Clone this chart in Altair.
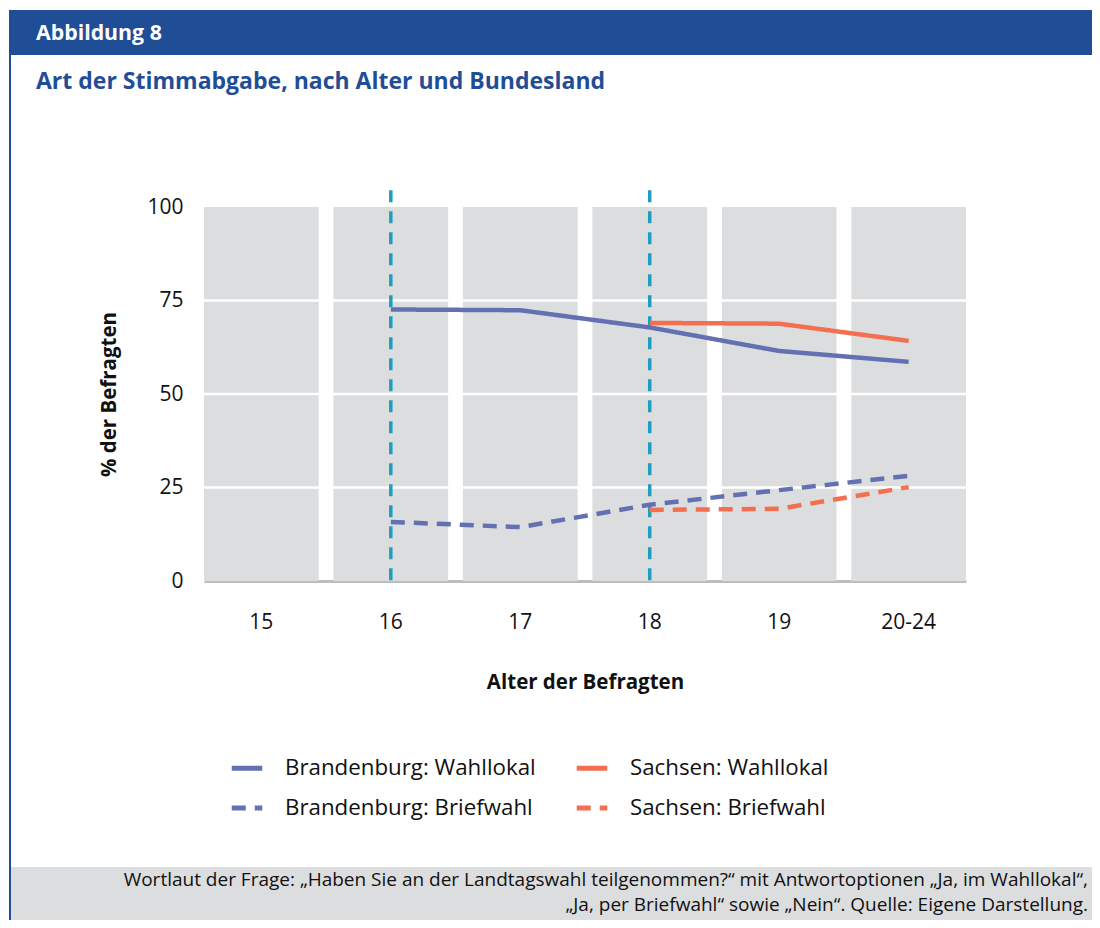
import altair as alt
import pandas as pd

# ---- data ----
ages = ["15", "16", "17", "18", "19", "20-24"]
series_names = ["Brandenburg: Wahllokal", "Sachsen: Wahllokal",
                "Brandenburg: Briefwahl", "Sachsen: Briefwahl"]
bb_wahllokal = [None, 72.6, 72.4, 67.8, 61.5, 58.6]
sn_wahllokal = [None, None, None, 69.0, 68.8, 64.2]
bb_briefwahl = [None, 15.8, 14.4, 20.4, 24.3, 28.1]
sn_briefwahl = [None, None, None, 19.0, 19.3, 25.1]
y_ticks = [0, 25, 50, 75, 100]
grid_values = [25, 50, 75]
marker_ages = ["16", "18"]
band_top = 100

header_text = "Abbildung 8"
title_text = "Art der Stimmabgabe, nach Alter und Bundesland"
x_title = "Alter der Befragten"
y_title = "% der Befragten"
footer_line1 = "Wortlaut der Frage: \u201eHaben Sie an der Landtagswahl teilgenommen?\u201c mit Antwortoptionen \u201eJa, im Wahllokal\u201c,"
footer_line2 = "\u201eJa, per Briefwahl\u201c sowie \u201eNein\u201c. Quelle: Eigene Darstellung."

# ---- styles ----
BLUE = "#1f4e96"
GRAY = "#dcdddf"
TEAL = "#1f9dc0"
C_BB = "#6370b1"
C_SN = "#f36f50"
FONT = "Open Sans, Lato, sans-serif"

W, H = 762, 374
TOTAL_W, TOTAL_H = 1084, 912
PAD_L, PAD_T = 196, 199

rows = []
for name, vals in zip(series_names, [bb_wahllokal, sn_wahllokal, bb_briefwahl, sn_briefwahl]):
    for a, v in zip(ages, vals):
        if v is not None:
            rows.append({"age": a, "series": name, "value": v})
line_df = pd.DataFrame(rows)
bg_df = pd.DataFrame({"age": ages, "top": [band_top] * len(ages)})
grid_df = pd.DataFrame({"v": grid_values})
marker_df = pd.DataFrame({"age": marker_ages})
one = pd.DataFrame({"k": [0]})

x_scale = alt.Scale(domain=ages, paddingInner=0.114, paddingOuter=0)
y_scale = alt.Scale(domain=[0, 100], nice=False)

x_axis = alt.Axis(title=x_title, labelAngle=0, ticks=False, domainColor="#bcbdbf",
                  domainWidth=3, labelPadding=30, labelFontSize=21, labelFont=FONT,
                  labelColor="#111", titleFontSize=20.5, titleFont=FONT,
                  titleFontWeight="bold", titleColor="#111", titlePadding=40)
y_axis = alt.Axis(title=y_title, values=y_ticks, ticks=False, domain=False, grid=False,
                  labelPadding=21, labelFontSize=21, labelFont=FONT, labelColor="#111",
                  titleFontSize=20.5, titleFont=FONT, titleFontWeight="bold",
                  titleColor="#111", titlePadding=27)

x_enc = alt.X("age:N", scale=x_scale, sort=ages, axis=x_axis)

bg = alt.Chart(bg_df).mark_bar(color=GRAY).encode(
    x=x_enc, y=alt.Y("top:Q", scale=y_scale, axis=y_axis))

grid = alt.Chart(grid_df).mark_rule(color="white", strokeWidth=2.5).encode(
    y=alt.Y("v:Q", scale=y_scale, axis=y_axis))

markers = alt.Chart(marker_df).mark_rule(color=TEAL, strokeWidth=3.5, strokeDash=[12, 9]).encode(
    x=x_enc, y=alt.datum(104.5), y2=alt.datum(0))

legend = alt.Legend(orient="none", legendX=25, legendY=543, columns=2, direction="horizontal",
                    title=None, symbolType="stroke", symbolSize=930, symbolStrokeWidth=5,
                    labelFontSize=22.3, labelFont=FONT, labelColor="#111",
                    labelOffset=20, columnPadding=30, rowPadding=10, padding=0,
                    labelLimit=500)

lines = alt.Chart(line_df).mark_line(strokeWidth=4.5).encode(
    x=x_enc,
    y=alt.Y("value:Q", scale=y_scale, axis=y_axis),
    color=alt.Color("series:N", scale=alt.Scale(domain=series_names, range=[C_BB, C_SN, C_BB, C_SN]),
                    legend=legend),
    strokeDash=alt.StrokeDash("series:N", scale=alt.Scale(domain=series_names,
                              range=[[1, 0], [1, 0], [14, 9], [14, 9]]), legend=legend),
    detail="series:N",
)

RIGHT = TOTAL_W - PAD_L
BOTTOM = TOTAL_H - PAD_T
header = alt.Chart(one).mark_rect(color=BLUE).encode(
    x=alt.value(-195), x2=alt.value(RIGHT), y=alt.value(-197), y2=alt.value(-152))
left_line = alt.Chart(one).mark_rule(color=BLUE, strokeWidth=2).encode(
    x=alt.value(-194), y=alt.value(-197), y2=alt.value(BOTTOM))
footer = alt.Chart(one).mark_rect(color=GRAY).encode(
    x=alt.value(-193), x2=alt.value(RIGHT), y=alt.value(660), y2=alt.value(BOTTOM))

def text_layer(txt, x, y, size, color, weight="normal", align="left"):
    return alt.Chart(pd.DataFrame({"t": [txt]})).mark_text(
        align=align, baseline="middle", fontSize=size, fontWeight=weight,
        color=color, font=FONT).encode(x=alt.value(x), y=alt.value(y), text="t:N")

t_header = text_layer(header_text, -168, -173, 21.3, "white", "bold")
t_title = text_layer(title_text, -168, -125, 23, BLUE, "bold")
t_f1 = text_layer(footer_line1, RIGHT - 4, 673, 19, "#111", align="right")
t_f2 = text_layer(footer_line2, RIGHT - 4, 698, 19, "#111", align="right")

chart = alt.layer(header, left_line, footer, t_header, t_title, t_f1, t_f2,
                  bg, grid, markers, lines).properties(
    width=W, height=H, autosize="none",
    padding={"left": PAD_L, "top": PAD_T, "right": TOTAL_W - PAD_L - W,
             "bottom": TOTAL_H - PAD_T - H},
    background="white",
).configure_view(stroke=None)

chart.save("out.html", embed_options={"renderer": "svg", "actions": False})
